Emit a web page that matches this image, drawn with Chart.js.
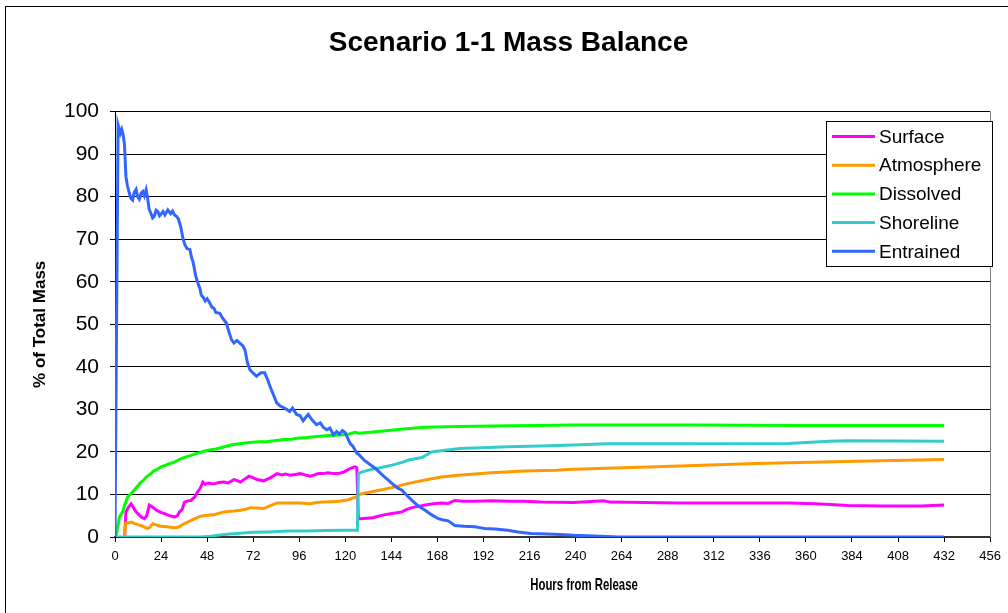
<!DOCTYPE html>
<html>
<head>
<meta charset="utf-8">
<script src="https://cdn.jsdelivr.net/npm/chart.js@4.4.1/dist/chart.umd.min.js"></script>
<style>
  html, body { margin:0; padding:0; background:#fff; }
  #wrap { width:1008px; height:613px; position:relative; }
</style>
</head>
<body>
<div id="wrap"><canvas id="massChart" width="1008" height="613"></canvas></div>
<script>
// ----- Data -----
const xTicks = [0,24,48,72,96,120,144,168,192,216,240,264,288,312,336,360,384,408,432,456];
const yTicks = [0,10,20,30,40,50,60,70,80,90,100];
const seriesNames = ["Surface","Atmosphere","Dissolved","Shoreline","Entrained"];
const seriesColors = ["#FF00FF","#FF9900","#00FF00","#33CCCC","#3366FF"];
const xTitle = "Hours from Release";

const surfaceHours = [5,5.7,7,8.4,9.5,11,12.5,14,15.3,16.5,17.9,19,20.5,22,24,25.8,28,30,31,32.5,33.6,35,36.2,38,39.7,41.5,43,44.5,45.8,47,48.5,50,51.9,54,56.8,58.8,62,64,65.4,67.5,69.8,72,74,77.5,80,82,84.4,87,89,91.3,94,96.5,99,101.7,104,106,108.6,111,114,117,119,120.5,122.4,125,126,126.8,128,131,134.5,135.7,140,144.3,147,149.5,152,154.7,158,161.6,166,170,173.6,177,182,187.4,196,205,213,222,239,254.7,258,294,351,365,382,400,420,432];
const surfaceValues = [0,5.9,7,7.8,7,5.9,5.2,4.6,4.3,5,7.5,7.2,6.7,6.2,5.8,5.5,5.1,4.8,4.7,5,5.9,6.5,8.2,8.5,8.6,9.4,10.6,11.5,12.9,12.4,12.7,12.6,12.5,12.8,12.9,12.7,13.5,13.2,12.9,13.6,14.3,13.9,13.5,13.2,13.7,14.2,14.9,14.6,14.8,14.5,14.7,14.9,14.6,14.3,14.6,14.9,14.9,15.1,14.9,15,15.2,15.6,16.1,16.5,16.3,4.3,4.3,4.4,4.5,4.7,5.2,5.5,5.7,5.9,6.5,6.9,7.2,7.5,7.8,8,7.9,8.6,8.4,8.4,8.5,8.4,8.4,8.2,8.1,8.5,8.2,8,8,7.8,7.4,7.3,7.3,7.5];

const atmosHours = [5,5.5,7,8.4,10,12,13.6,15,17,18,19.7,21,22.5,24,27,31,33,34.5,36,39.7,42,44,46,48.4,52,56.8,58.8,62,65.4,68,70.6,74,77.5,80,84.4,90,96.5,101.7,105,108.6,113,117,121,125.8,127,130,135.7,144.3,153,161.6,170,178.8,196,213,230,239,282,334,386,432];
const atmosValues = [0,3.3,3.3,3.5,3.2,2.9,2.7,2.4,2,2.2,3.1,2.9,2.7,2.5,2.4,2.2,2.3,2.7,3.1,3.9,4.4,4.8,5,5.1,5.3,5.9,6,6.1,6.3,6.5,6.9,6.8,6.7,7.2,8,8,8,7.8,8.1,8.2,8.3,8.4,8.7,9.4,10,10.3,10.8,11.6,12.6,13.4,14.1,14.5,15.1,15.5,15.7,15.9,16.5,17.3,17.8,18.2];

const dissolvedHours = [0.5,2.3,3,4,5,6.6,8,10,11.5,13.6,15,16.5,18.8,20,22,24,26,28,31,33,35.5,37.5,39.7,42,44,46,48.4,52.7,57,61,66,70,75,79,84,88,92,96,100,105,110,114,118,122,125,127,130,137,144,150,161.6,172,196,239,300,360,432];
const dissolvedValues = [0,4.7,5.2,5.9,7.5,9.4,10,11,11.8,12.9,13.4,14.2,14.9,15.5,15.9,16.5,16.8,17.2,17.6,18.1,18.6,18.9,19.2,19.6,19.8,20.1,20.4,20.7,21.2,21.7,22,22.2,22.4,22.4,22.7,22.9,23,23.3,23.4,23.6,23.8,23.9,24,24.2,24.6,24.4,24.5,24.8,25.1,25.4,25.8,25.9,26.1,26.3,26.3,26.2,26.2];

const shoreHours = [0,45,50,55,60,65,72,80,90,100,110,120,126.3,126.8,128.8,134.5,137.5,144.3,150,153,159.9,165,172,180,187.5,204.7,222,239,256,300,351,360,372,382,432];
const shoreValues = [0,0,0.2,0.5,0.7,0.9,1.1,1.2,1.4,1.4,1.5,1.6,1.6,14.9,15.3,16,16.2,16.9,17.6,18.1,18.7,20,20.4,20.8,20.9,21.2,21.4,21.6,21.9,21.9,22,22.2,22.5,22.6,22.5];

const entrainedHours = [0,0.4,1.6,2.8,3.5,4.2,4.9,5.7,6.5,7.5,8.3,9.2,10,11,11.8,12.7,13.6,14.5,15.3,16.2,17,17.8,18.8,19.6,20.5,21.4,22.3,23.2,24,25,26,27.5,29,30,31,32,33,34.2,35.5,36.5,37.5,39,40,40.7,42,43.3,44.2,45,46,47,48,49.4,50.5,51.5,52.5,54.6,56,58,59.5,60.7,62,63.5,65,66.5,67.7,69,70.3,72,73.7,76,78,79.5,80.7,82.5,84.2,86,87.5,89.4,91,92.5,94.6,96.5,98,99.5,100.7,102.5,105,107,108.5,110.3,112,113.8,115.5,117,118.5,120,121,122.5,124,125.8,127,130,135.7,140,144.3,147,149.5,152,154.7,158,161.6,165,168.5,171,173.6,175.5,177,182,187.4,190,192.6,198,204.7,210,216.7,225,232,239,253,262,432];
const entrainedValues = [0,0,96.9,94.9,95.8,94.6,92.5,84.7,82.5,80.8,79.6,79.2,81,81.7,80,79.4,80.8,81.2,80.2,81.6,79.6,77,76,75,75.4,76.8,76.5,75.5,75.9,76.5,75.7,76.9,76,76.6,75.7,75.4,74.8,73,70,68.6,67.8,67.6,65.5,64.6,61.5,59.5,58.5,56.8,56.3,55.5,56,55,54,53.8,52.8,52.6,51.5,50.3,48,46.4,45.6,46.2,45.6,45,44,41,39.3,38.5,37.8,38.6,38.6,37,35.5,33.5,31.6,30.8,30.5,30,29.5,30.3,28.8,28.5,27.3,28.2,28.8,27.6,26.4,26.8,25.8,25.2,25.6,24,24.8,24.2,25,24.5,23.5,22,21.3,19.8,19.4,18,16.1,14.3,12.6,11.6,11,9.8,8.6,7.3,6.3,5.2,4.3,4,3.8,3.2,2.7,2.5,2.4,2.2,2,1.9,1.6,1.2,0.8,0.7,0.6,0.4,0.2,0,0];

const seriesHours = [surfaceHours, atmosHours, dissolvedHours, shoreHours, entrainedHours];
const seriesValues = [surfaceValues, atmosValues, dissolvedValues, shoreValues, entrainedValues];

const ARIAL = "Arial, 'Liberation Sans', sans-serif";

// ----- Plugins -----
const framePlugin = {
  id: "frame",
  beforeDraw(chart){
    const ctx = chart.ctx;
    ctx.save();
    ctx.fillStyle = "#fff";
    ctx.fillRect(0, 0, chart.width, chart.height);
    ctx.strokeStyle = "#000";
    ctx.lineWidth = 1;
    ctx.strokeRect(5.5, 6.5, 1010, 640);
    ctx.restore();
  },
  afterDraw(chart){
    const a = chart.chartArea, ctx = chart.ctx;
    ctx.save();
    // plot area right border
    ctx.strokeStyle = "#808080";
    ctx.lineWidth = 1;
    ctx.beginPath();
    ctx.moveTo(Math.round(a.right) + 0.5, a.top);
    ctx.lineTo(Math.round(a.right) + 0.5, a.bottom);
    ctx.stroke();

    // x axis title, condensed like the original
    ctx.fillStyle = "#000";
    ctx.font = "bold 17px " + ARIAL;
    ctx.textAlign = "center";
    ctx.textBaseline = "middle";
    ctx.save();
    ctx.translate(584, 585);
    ctx.scale(0.67, 1);
    ctx.fillText(xTitle, 0, 0);
    ctx.restore();

    // legend box
    const bx = 826.5, by = 121.5, bw = 166, bh = 145;
    ctx.fillStyle = "#fff";
    ctx.fillRect(bx, by, bw, bh);
    ctx.strokeStyle = "#000";
    ctx.strokeRect(bx, by, bw, bh);
    ctx.font = "19px " + ARIAL;
    ctx.textBaseline = "middle";
    ctx.textAlign = "left";
    seriesNames.forEach((name, i)=>{
      const y = 136.5 + i*28.7;
      ctx.strokeStyle = seriesColors[i];
      ctx.lineWidth = 3;
      ctx.beginPath();
      ctx.moveTo(832, y);
      ctx.lineTo(875, y);
      ctx.stroke();
      ctx.fillStyle = "#000";
      ctx.fillText(name, 879, y + 1);
    });
    ctx.restore();
  }
};

// ----- Chart -----
const datasets = seriesNames.map((name, i)=>({
  label: name,
  data: seriesHours[i].map((h, j)=>({x: h, y: seriesValues[i][j]})),
  borderColor: seriesColors[i],
  backgroundColor: seriesColors[i],
  borderWidth: 3,
  pointRadius: 0,
  tension: 0,
  fill: false,
  order: seriesNames.length - i
}));

new Chart(document.getElementById("massChart"), {
  type: "line",
  data: { datasets },
  options: {
    responsive: false,
    animation: false,
    devicePixelRatio: 1,
    layout: { padding: { left: 22, right: 13, top: 0, bottom: 0 } },
    plugins: {
      legend: { display: false },
      tooltip: { enabled: false },
      title: {
        display: true,
        text: "Scenario 1-1 Mass Balance",
        color: "#000",
        font: { family: ARIAL, size: 28, weight: "bold", lineHeight: 1.2 },
        padding: { top: 26, bottom: 52 }
      }
    },
    scales: {
      x: {
        type: "linear",
        min: 0, max: 456,
        afterBuildTicks: s => { s.ticks = xTicks.map(v=>({value:v})); },
        afterFit: s => { s.height = 76; },
        ticks: { color: "#000", font: { family: ARIAL, size: 13 }, padding: 7, maxRotation: 0, autoSkip: false },
        grid: { drawOnChartArea: false, drawTicks: true, tickLength: 5, color: "#000" },
        border: { color: "#333", width: 2 }
      },
      y: {
        min: 0, max: 100,
        afterBuildTicks: s => { s.ticks = yTicks.map(v=>({value:v})); },
        afterFit: s => { s.width = 93; },
        ticks: { color: "#000", font: { family: ARIAL, size: 21 }, padding: 11 },
        grid: { color: "#000", lineWidth: 1, tickLength: 5 },
        border: { color: "#000", width: 1 },
        title: { display: true, text: "% of Total Mass", color: "#000",
                 font: { family: ARIAL, size: 17, weight: "bold" }, padding: { top: 8, bottom: 0 } }
      }
    }
  },
  plugins: [framePlugin]
});
</script>
</body>
</html>
